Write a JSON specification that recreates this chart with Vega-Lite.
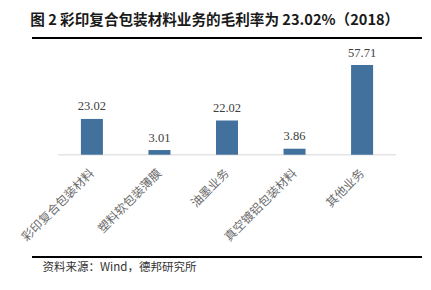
{
  "$schema": "https://vega.github.io/schema/vega-lite/v6.json",
  "width": 390,
  "height": 219,
  "autosize": {"type": "none"},
  "padding": {"left": 32, "top": 38, "right": 9, "bottom": 33},
  "title": {
    "text": "图 2 彩印复合包装材料业务的毛利率为 23.02%（2018）",
    "font": "Noto Sans CJK SC",
    "fontSize": 14.6,
    "fontWeight": "bold",
    "color": "#1a1a1a",
    "anchor": "start",
    "dx": 11,
    "offset": 10
  },
  "config": {"view": {"stroke": null}},
  "data": {
    "values": [
      {"cat": "彩印复合包装材料", "value": 23.02},
      {"cat": "塑料软包装薄膜", "value": 3.01},
      {"cat": "油墨业务", "value": 22.02},
      {"cat": "真空镀铝包装材料", "value": 3.86},
      {"cat": "其他业务", "value": 57.71}
    ]
  },
  "layer": [
    {
      "mark": {"type": "tick", "orient": "horizontal", "size": 67.6, "thickness": 1.3, "color": "#d9d9d9"},
      "encoding": {
        "x": {"field": "cat", "type": "nominal", "sort": null,
              "scale": {"paddingInner": 0, "paddingOuter": 0.387}},
        "y": {"datum": 0, "type": "quantitative", "scale": {"domain": [-65.8, 75.1], "nice": false, "zero": false}, "axis": null}
      }
    },
    {
      "mark": {"type": "bar", "width": {"band": 0.326}, "color": "#41719c"},
      "encoding": {
        "x": {"field": "cat", "type": "nominal", "sort": null,
              "axis": {
                "orient": "bottom",
                "offset": -102.3,
                "domain": false,
                "ticks": false,
                "labelAngle": -45,
                "labelAlign": "right",
                "labelBaseline": "middle",
                "labelPadding": 16,
                "labelFont": "Noto Sans CJK SC",
                "labelFontSize": 12,
                "labelColor": "#6b6b6b",
                "title": "资料来源：Wind，德邦研究所",
                "titleFont": "Noto Sans CJK SC",
                "titleFontSize": 11.5,
                "titleFontWeight": "normal",
                "titleColor": "#333333",
                "titleAlign": "left",
                "titleBaseline": "middle",
                "titleAnchor": "start",
                "titleX": 10,
                "titleY": 112.3
              }},
        "y": {"field": "value", "type": "quantitative", "axis": null},
        "y2": {"datum": 0}
      }
    },
    {
      "mark": {"type": "text", "font": "Liberation Serif", "fontSize": 12.5, "color": "#404040", "baseline": "alphabetic", "dy": -8.5},
      "encoding": {
        "x": {"field": "cat", "type": "nominal", "sort": null},
        "y": {"field": "value", "type": "quantitative"},
        "text": {"field": "value", "type": "quantitative", "format": ".2f"}
      }
    },
    {
      "mark": {"type": "rule", "color": "#000000", "strokeWidth": 1.6},
      "encoding": {"y": {"datum": 75.1, "type": "quantitative"}}
    },
    {
      "mark": {"type": "rule", "color": "#000000", "strokeWidth": 1.8},
      "encoding": {"y": {"datum": -65.8, "type": "quantitative"}}
    }
  ]
}
